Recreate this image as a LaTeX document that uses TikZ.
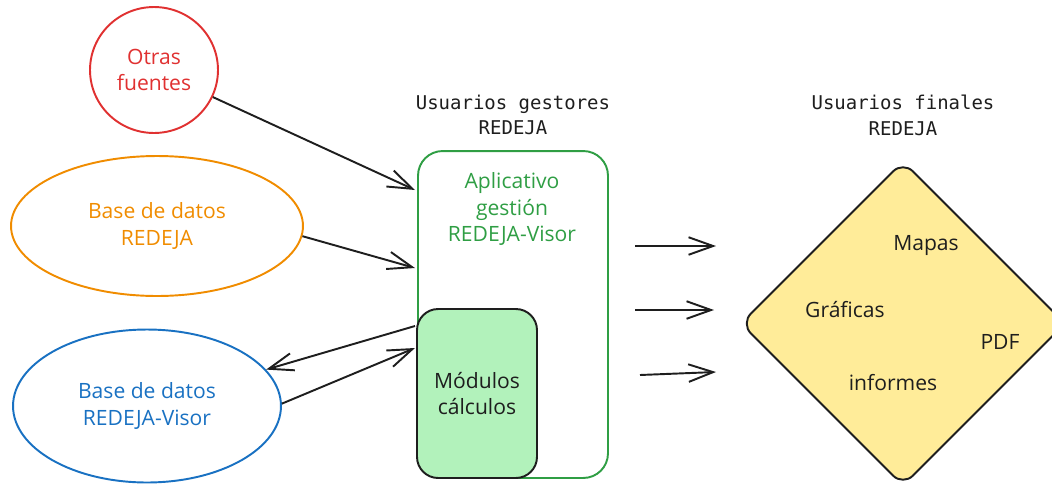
\documentclass[tikz,border=0pt]{standalone}
\usepackage{fontspec}
\setmainfont{Open Sans}
\newfontfamily\headfont{DejaVu Sans Mono}
\usetikzlibrary{arrows.meta,shapes.geometric,calc}
\definecolor{cred}{HTML}{E03131}
\definecolor{corange}{HTML}{F08C00}
\definecolor{cblue}{HTML}{1971C2}
\definecolor{cgreen}{HTML}{2F9E44}
\definecolor{cgreenfill}{HTML}{B2F2BB}
\definecolor{cyellow}{HTML}{FFEC99}
\definecolor{ink}{HTML}{1E1E1E}
\begin{document}
\begin{tikzpicture}[x=0.02cm,y=-0.02cm,
  hand/.style={font=\fontsize{12}{15}\selectfont, align=center},
  head/.style={font=\headfont\fontsize{10.8}{14.7}\selectfont, align=center, text=ink},
  blob/.style={ellipse, draw, line width=1.1pt, inner sep=0pt, hand},
  arr/.style={draw=ink, line width=1.1pt, -{Straight Barb[length=14pt,width=10pt,line width=1.1pt]}},
  ]
\useasboundingbox (0,0) rectangle (1052,484);
\clip (0,0) rectangle (1052,484);

% sources
\node[blob, draw=cred, text=cred, minimum width=2.56cm, minimum height=2.52cm] (otras) at (154,70) {Otras\\fuentes};
\node[blob, draw=corange, text=corange, minimum width=5.84cm, minimum height=2.8cm] (bdr) at (157,226) {Base de datos\\REDEJA};
\node[blob, draw=cblue, text=cblue, minimum width=5.36cm, minimum height=3.06cm] (bdv) at (147,406) {Base de datos\\REDEJA-Visor};

% headings
\node[head] (hgest) at (513,115) {Usuarios gestores\\REDEJA};
\node[head] (hfin) at (903,115) {Usuarios finales\\REDEJA};

% application box
\node[draw=cgreen, line width=1.1pt, rounded corners=14pt, minimum width=3.8cm, minimum height=6.54cm, inner sep=0pt] (app) at (513,314.5) {};
\node[hand, text=cgreen] (apptxt) at (512,209) {Aplicativo\\gestión\\REDEJA-Visor};
\node[draw=ink, fill=cgreenfill, line width=1.1pt, rounded corners=12pt, minimum width=2.4cm, minimum height=3.38cm, inner sep=0pt, hand, text=ink] (mod) at (477,393.5) {Módulos\\cálculos};

% final users diamond
\node[diamond, draw=ink, fill=cyellow, line width=1.1pt, rounded corners=8pt, minimum width=6.5cm, minimum height=6.5cm, inner sep=0pt] (dia) at (903,323.5) {};
\node[hand, text=ink] (mapas) at (926,246) {Mapas};
\node[hand, text=ink] (graf) at (845,310) {Gráficas};
\node[hand, text=ink] (pdf) at (1000,342) {PDF};
\node[hand, text=ink] (inf) at (893,383) {informes};

% connector ends
\coordinate (in1) at (415,190);
\coordinate (in2) at (415,268);
\coordinate (out3) at (415,326);
\coordinate (in4) at (415,348);
\coordinate (r1a) at (635,246); \coordinate (r1b) at (716,246);
\coordinate (r2a) at (635,310); \coordinate (r2b) at (714,310);
\coordinate (r3a) at (640,375); \coordinate (r3b) at (716,372);

\draw[arr] (otras) -- (in1);
\draw[arr] (bdr.-4) -- (in2);
\draw[arr] (out3) -- (bdv.17);
\draw[arr] (bdv.1) -- (in4);
\draw[arr] (r1a) -- (r1b);
\draw[arr] (r2a) -- (r2b);
\draw[arr] (r3a) -- (r3b);
\end{tikzpicture}
\end{document}
